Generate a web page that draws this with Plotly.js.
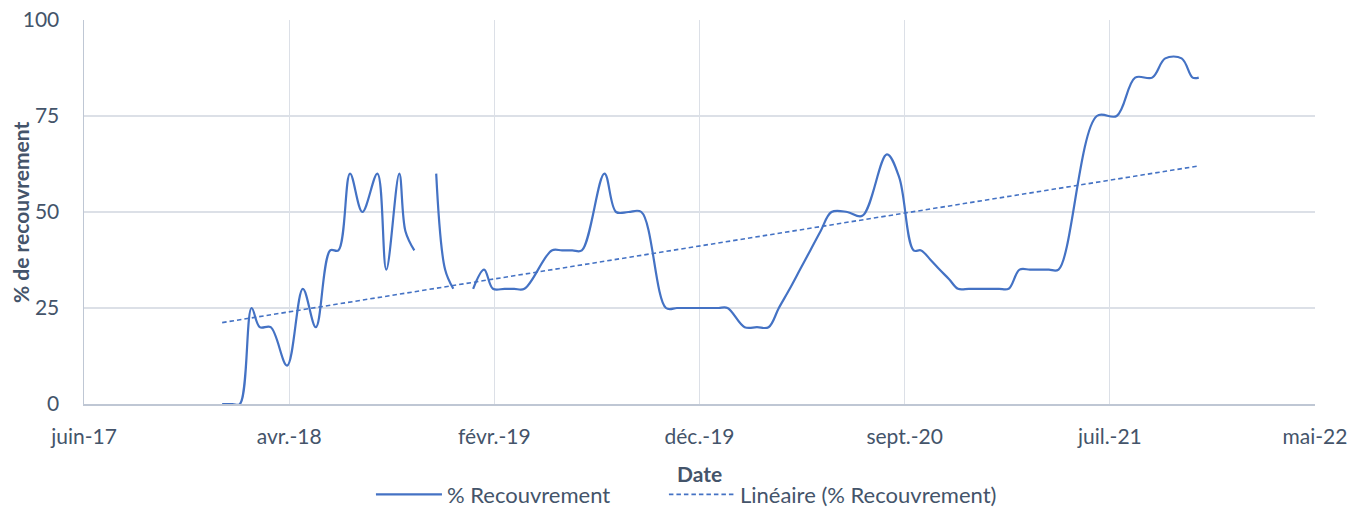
<!DOCTYPE html>
<html>
<head>
<meta charset="utf-8">
<script src="https://cdn.plot.ly/plotly-3.0.1.min.js"></script>
<style>
  html, body { margin: 0; padding: 0; background: #ffffff; }
  #chart { width: 1352px; height: 507px; }
</style>
</head>
<body>
<div id="chart"></div>
<script>
// ---- Data ----
var dates = [
  "2018-01-03","2018-01-18","2018-01-29","2018-02-15","2018-02-27","2018-03-15","2018-04-08",
  "2018-05-01","2018-05-20","2018-06-10","2018-06-22","2018-07-09","2018-07-27",
  "2018-08-18","2018-08-31","2018-09-19","2018-09-28","2018-10-11","2018-10-25",
  "2018-11-12","2018-11-25","2018-12-07","2018-12-20",
  "2019-01-05","2019-01-21","2019-02-03","2019-02-20","2019-03-06","2019-03-21",
  "2019-04-30","2019-05-15","2019-05-30","2019-06-13",
  "2019-07-16","2019-08-02","2019-08-20","2019-09-08",
  "2019-10-14","2019-10-30","2019-11-15","2019-12-01","2019-12-15","2019-12-30","2020-01-12",
  "2020-02-06","2020-02-24","2020-03-12",
  "2020-03-27","2020-04-12","2020-04-27","2020-05-12","2020-05-27",
  "2020-06-12","2020-07-05","2020-07-27",
  "2020-09-01","2020-09-19","2020-10-10","2020-10-21",
  "2020-11-04","2020-11-17","2020-12-01",
  "2020-12-14","2020-12-30","2021-01-14","2021-01-29","2021-02-12","2021-02-26",
  "2021-03-14","2021-03-29","2021-04-12","2021-04-26","2021-05-10",
  "2021-07-05","2021-08-03","2021-08-30","2021-09-24","2021-10-13","2021-11-06",
  "2021-11-22","2021-12-01"
];
var recouvrement = [
  0, 0, 0, 25, 20, 20, 10,
  30, 20, 40, 40, 60, 50,
  60, 35, 60, 45, 40, null,
  60, 35, 30, null,
  30, 35, 30, 30, 30, 30,
  40, 40, 40, 40,
  60, 50, 50, 50,
  25, 25, 25, 25, 25, 25, 25,
  20, 20, 20,
  25, 30, 35, 40, 45,
  50, 50, 49,
  65, 59, 40, 40,
  37.5, 35, 32.5,
  30, 30, 30, 30, 30, 30,
  35, 35, 35, 35, 35,
  75, 75, 85, 85, 90, 90,
  85, 85
];
// Linear trend line values, read at the first and last date of the series
var trendDates = ["2018-01-03", "2021-12-01"];
var trendValues = [21.2, 62];

var yTicks = [0, 25, 50, 75, 100];
var xTickDates = ["2017-06-15","2018-04-11","2019-02-05","2019-12-02","2020-09-27","2021-07-24","2022-05-20"];
var xTickLabels = ["juin-17","avr.-18","févr.-19","déc.-19","sept.-20","juil.-21","mai-22"];
var seriesName = "% Recouvrement";
var trendName = "Linéaire (% Recouvrement)";

var textColor = "#44546A";
var fontFam = "Lato, 'Open Sans', sans-serif";

var traces = [
  {
    x: dates, y: recouvrement, name: seriesName, type: "scatter", mode: "lines",
    line: { color: "#4472C4", width: 2.2, shape: "spline", smoothing: 1 },
    connectgaps: false, hoverinfo: "x+y", legend: "legend"
  },
  {
    x: trendDates, y: trendValues, name: trendName, type: "scatter", mode: "lines",
    line: { color: "#4472C4", width: 1.6, dash: "4.5px,3px" }, hoverinfo: "skip",
    legend: "legend2"
  }
];

var legendBase = {
  orientation: "h", xanchor: "left", y: -0.236, yanchor: "middle",
  font: { family: fontFam, size: 22, color: textColor },
  itemwidth: 66, bgcolor: "rgba(0,0,0,0)"
};

var layout = {
  width: 1352, height: 507,
  margin: { l: 84, r: 37, t: 20, b: 103, autoexpand: false },
  paper_bgcolor: "#ffffff", plot_bgcolor: "#ffffff",
  font: { family: fontFam, size: 21, color: textColor },
  showlegend: true,
  legend: Object.assign({}, legendBase, { x: 0.2331 }),
  legend2: Object.assign({}, legendBase, { x: 0.4711 }),
  xaxis: {
    type: "date",
    range: [xTickDates[0], xTickDates[xTickDates.length-1]],
    tickmode: "array", tickvals: xTickDates, ticktext: xTickLabels,
    showgrid: true, gridcolor: "#DCE0E7", gridwidth: 1.3,
    showline: true, linecolor: "#BFC7D4", linewidth: 1.5,
    ticks: "outside", ticklen: 13, tickcolor: "rgba(0,0,0,0)",
    zeroline: false, automargin: false,
    tickfont: { family: fontFam, size: 21, color: textColor }
  },
  yaxis: {
    range: [0, 100], tickmode: "array", tickvals: yTicks,
    showgrid: true, gridcolor: "#DCE0E7", gridwidth: 1.3,
    showline: true, linecolor: "#BFC7D4", linewidth: 1.5,
    ticks: "outside", ticklen: 19, tickcolor: "rgba(0,0,0,0)",
    zeroline: false, automargin: false,
    tickfont: { family: fontFam, size: 21, color: textColor }
  },
  annotations: [
    { text: "<b>Date</b>", xref: "paper", yref: "paper", x: 0.5, y: -0.18,
      xanchor: "center", yanchor: "middle", showarrow: false,
      font: { family: fontFam, size: 21, color: textColor } },
    { text: "<b>% de recouvrement</b>", xref: "paper", yref: "paper", x: -0.052, y: 0.5,
      xanchor: "center", yanchor: "middle", textangle: -90, showarrow: false,
      font: { family: fontFam, size: 21, color: textColor } }
  ]
};

Plotly.newPlot("chart", traces, layout, { displayModeBar: false, staticPlot: true });
</script>
</body>
</html>
